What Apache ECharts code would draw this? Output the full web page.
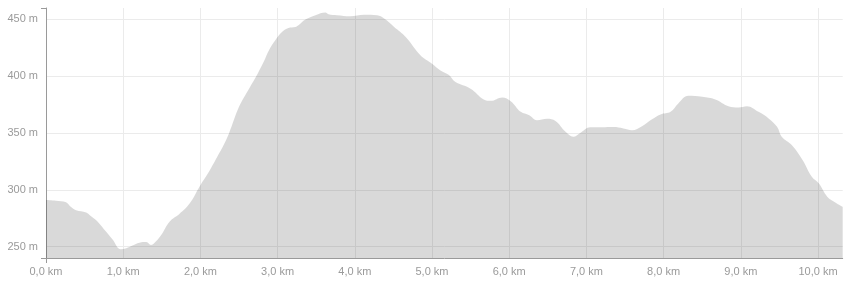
<!DOCTYPE html>
<html>
<head>
<meta charset="utf-8">
<script src="https://cdn.jsdelivr.net/npm/echarts@6/dist/echarts.min.js"></script>
<style>
html,body{margin:0;padding:0;background:#fff;}
#chart{width:845px;height:282px;}
</style>
</head>
<body>
<div id="chart"></div>
<script>
var distanceKm = [0.00,0.13,0.26,0.32,0.39,0.52,0.58,0.67,0.78,0.86,0.97,1.04,1.12,1.21,1.30,1.36,1.40,1.49,1.60,1.73,1.86,1.99,2.12,2.25,2.29,2.37,2.50,2.63,2.74,2.82,2.89,2.97,3.06,3.14,3.23,3.27,3.36,3.49,3.62,3.66,3.77,3.94,4.12,4.29,4.38,4.51,4.66,4.85,5.00,5.11,5.22,5.30,5.50,5.67,5.76,5.91,6.02,6.15,6.26,6.36,6.49,6.60,6.73,6.83,6.92,7.05,7.20,7.35,7.48,7.59,7.72,7.85,7.96,8.09,8.19,8.32,8.50,8.67,8.84,8.97,9.08,9.23,9.36,9.47,9.53,9.66,9.80,9.92,10.01,10.12,10.23,10.32];
var elevationM = [291,290.4,289,285,282,280,277,272,263,256.5,247.7,248.6,251,253.5,254,251.5,253,260,272,279,288,303,317,333,338,349.6,373,389,402,412.6,423,431.6,439,442.4,443.3,444.8,449.8,453.6,456,454.5,453.6,452.7,454,453.6,450.7,443.3,434.5,418.5,411,405,401,395,389,379.5,378.3,381.3,378,368.6,365.7,361.3,362.5,360.5,351,346.7,350,355,355,355.2,354,352.5,356,362,366.3,368.6,376,382.7,381.8,379.5,373.6,372.5,373.6,368.6,362.8,355.4,346.7,339.4,326.2,311.5,305.7,294,288.7,285.1];
var xTickValues = [0,1,2,3,4,5,6,7,8,9,10];
var yTickValues = [250,300,350,400,450];
var xMin = 0, xMax = 10.32;
var yMin = 240, yMax = 460;

var points = distanceKm.map(function (d, i) { return [d, elevationM[i]]; });

var axisGray = '#9a9a9a';
var gridGray = '#ebebeb';
var labelGray = '#9a9a9a';
var font = '"Liberation Sans", Arial, sans-serif';

var chart = echarts.init(document.getElementById('chart'), null, { renderer: 'canvas' });
chart.setOption({
  animation: false,
  grid: { left: 46, right: 2.3, top: 8, bottom: 24, containLabel: false },
  xAxis: [{
    type: 'value', min: xMin, max: xMax, position: 'bottom',
    axisLine: { show: true, lineStyle: { color: axisGray, width: 1 } },
    axisTick: { show: false, customValues: xTickValues },
    axisLabel: {
      customValues: xTickValues, margin: 8, color: labelGray, fontSize: 11, fontFamily: font,
      formatter: function (v) { return v.toFixed(1).replace('.', ',') + ' km'; }
    },
    splitLine: { show: true, lineStyle: { color: gridGray, width: 1 } }
  }, {
    type: 'value', min: xMin, max: xMax, position: 'bottom',
    axisLine: { show: false },
    axisTick: { show: true, customValues: [xMin], length: 5, lineStyle: { color: axisGray } },
    axisLabel: { show: false },
    splitLine: { show: false }
  }],
  yAxis: [{
    type: 'value', min: yMin, max: yMax, position: 'left',
    axisLine: { show: true, lineStyle: { color: axisGray, width: 1 } },
    axisTick: { show: false, customValues: yTickValues },
    axisLabel: {
      customValues: yTickValues, margin: 8, color: labelGray, fontSize: 11, fontFamily: font,
      formatter: '{value} m'
    },
    splitLine: { show: true, lineStyle: { color: gridGray, width: 1 } }
  }, {
    type: 'value', min: yMin, max: yMax, position: 'left',
    axisLine: { show: false },
    axisTick: { show: true, customValues: [yMin, yMax], length: 5, lineStyle: { color: axisGray } },
    axisLabel: { show: false },
    splitLine: { show: false }
  }],
  series: [{
    type: 'line',
    xAxisIndex: 0, yAxisIndex: 0,
    data: points,
    smooth: 0.4,
    showSymbol: false,
    silent: true,
    lineStyle: { width: 0, opacity: 0 },
    areaStyle: { color: 'rgba(0,0,0,0.15)', opacity: 1 },
    z: 2
  }]
});
</script>
</body>
</html>
